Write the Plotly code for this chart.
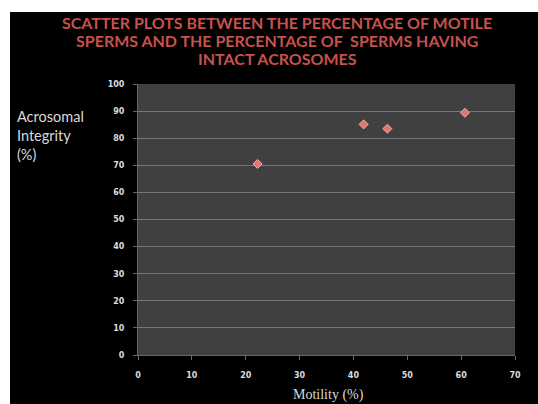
import plotly.graph_objects as go

# Data: motility vs. acrosomal integrity
motility = [22.2, 41.9, 46.3, 60.7]
acrosomal_integrity = [70.5, 85.1, 83.5, 89.4]

x_ticks = [0, 10, 20, 30, 40, 50, 60, 70]
y_ticks = [0, 10, 20, 30, 40, 50, 60, 70, 80, 90, 100]

title_lines = ["SCATTER PLOTS BETWEEN THE PERCENTAGE OF MOTILE",
               "SPERMS AND THE PERCENTAGE OF  SPERMS HAVING",
               "INTACT ACROSOMES"]
y_label = "Acrosomal<br>Integrity<br>(%)"
x_label = "Motility (%)"

W, H = 538, 404
L, R, T, B = 138, 23, 84, 49
PW, PH = W - L - R, H - T - B

def px(x):
    return (x - L) / PW

def py(y):
    return (H - B - y) / PH

fig = go.Figure()
fig.add_trace(go.Scatter(
    x=motility, y=acrosomal_integrity, mode="markers",
    marker=dict(symbol="diamond", size=7, color="#e0766f",
                line=dict(color="#f3a8a2", width=1)),
    showlegend=False,
))

tick_font = dict(family="DejaVu Sans, Verdana", size=8, color="#dcdcdc",
                 weight="bold")
axis_common = dict(
    zeroline=False, showline=True, linecolor="#686868",
    linewidth=1, ticks="outside", ticklen=4, tickcolor="#686868",
    tickfont=tick_font, fixedrange=True,
)

fig.update_layout(
    width=W, height=H,
    margin=dict(l=L, r=R, t=T, b=B),
    paper_bgcolor="black",
    plot_bgcolor="#404040",
    xaxis=dict(range=[0, 70], tickvals=x_ticks, showgrid=False,
               ticklabelstandoff=8, **axis_common),
    yaxis=dict(range=[0, 100], tickvals=y_ticks, showgrid=True,
               gridcolor="#767676", gridwidth=1, ticklabelstandoff=7,
               **axis_common),
)

# White strips at the top and left edges of the page
fig.add_shape(type="rect", xref="paper", yref="paper",
              x0=px(0), x1=px(W), y0=py(12), y1=py(0),
              fillcolor="white", line=dict(width=0), layer="above")
fig.add_shape(type="rect", xref="paper", yref="paper",
              x0=px(0), x1=px(10), y0=py(H), y1=py(0),
              fillcolor="white", line=dict(width=0), layer="above")

# Title, one annotation per line
for line, yc in zip(title_lines, [22, 40.5, 59]):
    fig.add_annotation(text=line, xref="paper", yref="paper",
                       x=px(277), y=py(yc), xanchor="center", yanchor="middle",
                       showarrow=False,
                       font=dict(family="Lato, Arial", size=16, color="#c8514d",
                                 weight="bold"))

fig.add_annotation(text=y_label, xref="paper", yref="paper",
                   x=px(15), y=py(106), xanchor="left", yanchor="top",
                   showarrow=False, align="left",
                   font=dict(family="Lato, Arial", size=14.5, color="#d9d9d9"))
fig.add_annotation(text=x_label, xref="paper", yref="paper",
                   x=px(328), y=py(395), xanchor="center", yanchor="middle",
                   showarrow=False,
                   font=dict(family="Liberation Serif, Times New Roman, serif",
                             size=14, color="#d9d9d9"))

fig.write_html("out.html")
